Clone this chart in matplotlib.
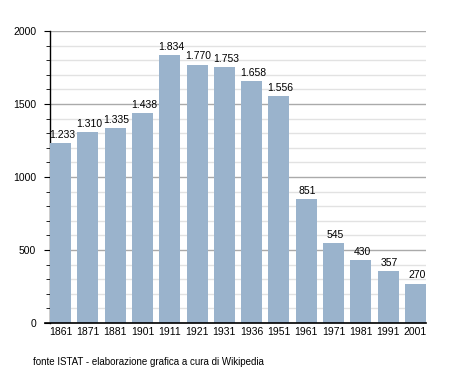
import matplotlib
matplotlib.use("Agg")
import matplotlib.pyplot as plt
from matplotlib.ticker import MultipleLocator
import numpy as np

# Census years and population
anni = ["1861", "1871", "1881", "1901", "1911", "1921", "1931",
        "1936", "1951", "1961", "1971", "1981", "1991", "2001"]
abitanti = [1233, 1310, 1335, 1438, 1834, 1770, 1753,
            1658, 1556, 851, 545, 430, 357, 270]

plt.rcParams['font.family'] = ['Liberation Sans', 'DejaVu Sans']

fig = plt.figure(figsize=(4.55, 3.73), dpi=100)
ax = fig.add_axes([50/455, 50/373, 376/455, 292/373])

bar_w = 0.77
x = np.arange(len(anni))
ax.bar(x, abitanti, width=bar_w, align='edge', color='#9ab3cc', zorder=3)

# value labels above the bars, italian thousands separator
for xi, v in zip(x, abitanti):
    lab = "{:,}".format(v).replace(",", ".")
    ax.text(xi + bar_w/2 + 0.05, v + 22, lab, ha='center', va='bottom', fontsize=7.5, zorder=4)

ax.set_xlim(0, len(anni) - 1 + bar_w)
ax.set_ylim(0, 2000)
ax.set_xticks(x + bar_w/2)
ax.set_xticklabels(anni, fontsize=7.5)
ax.tick_params(axis='x', length=0, pad=3)

ax.yaxis.set_major_locator(MultipleLocator(500))
ax.yaxis.set_minor_locator(MultipleLocator(100))
ax.tick_params(axis='y', which='major', length=4, labelsize=7.5, pad=6)
ax.tick_params(axis='y', which='minor', length=3)
ax.grid(axis='y', which='major', color='#aaaaaa', linewidth=1, zorder=1)
ax.grid(axis='y', which='minor', color='#e2e2e2', linewidth=1, zorder=1)

for s in ['top', 'right']:
    ax.spines[s].set_visible(False)
ax.spines['left'].set_linewidth(1)
ax.spines['bottom'].set_visible(False)
ax.plot([-5/27.3, len(anni) - 1 + bar_w], [0, 0], color='black', lw=1.2,
        clip_on=False, zorder=5)

fig.text(33/455, 1 - 362/373, "fonte ISTAT - elaborazione grafica a cura di Wikipedia",
         fontsize=7, va='center')

fig.savefig("out.png", dpi=100)
